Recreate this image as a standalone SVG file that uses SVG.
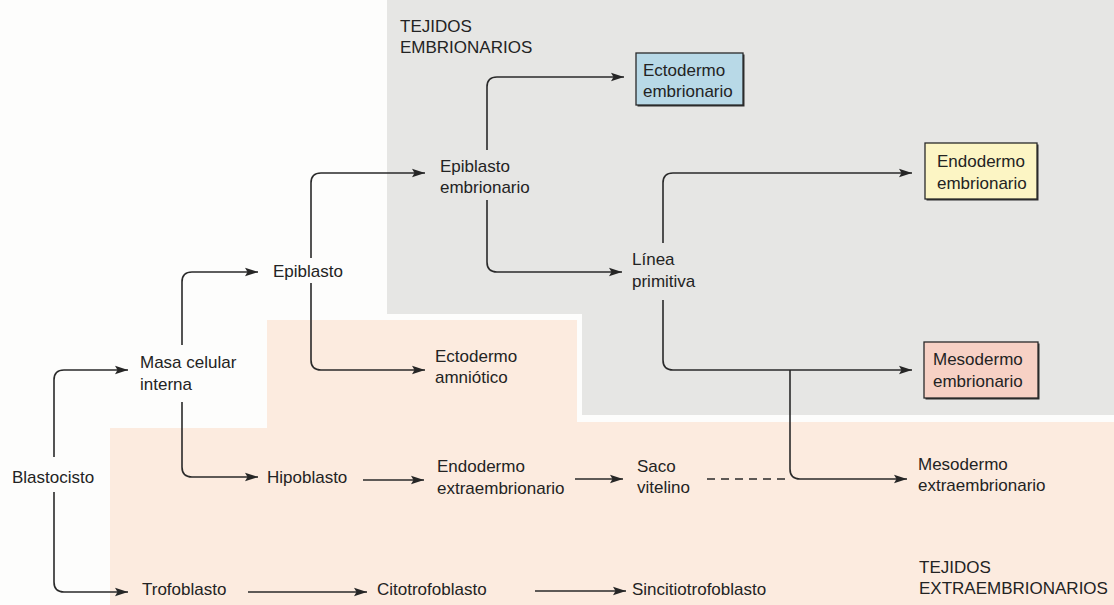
<svg xmlns="http://www.w3.org/2000/svg" width="1114" height="605" viewBox="0 0 1114 605">
<defs>
<marker id="ah" markerUnits="userSpaceOnUse" markerWidth="14" markerHeight="10" refX="13" refY="5" orient="auto">
<path d="M0,0.8 L13,5 L0,9.2 L2.5,5 Z" fill="#262626"/>
</marker>
<style>
text{font-family:"Liberation Sans",Arial,sans-serif;font-size:17px;fill:#232323}
.c{fill:none;stroke:#2a2a2a;stroke-width:1.6}
.a{marker-end:url(#ah)}
.d{stroke-dasharray:8 6}
.box{stroke:#2a2a2a;stroke-width:1.3}
.sh{fill:#2e2e2e}
</style>
</defs>
<rect x="0" y="0" width="1114" height="605" fill="#fdfdfc"/>
<g id="backgrounds">
<polygon points="387,0 1114,0 1114,415 582,415 582,314 387,314" fill="#e6e6e4"/>
<polygon points="267,320 577,320 577,422 1114,422 1114,605 110,605 110,428 267,428" fill="#fcebdf"/>
</g>
<g id="connectors">
<path class="c a" d="M54,457 V380 Q54,370 64,370 H128"/>
<path class="c a" d="M54,492 V582 Q54,592 64,592 H128"/>
<path class="c a" d="M182,345 V282 Q182,272 192,272 H258"/>
<path class="c a" d="M182,402 V467 Q182,477 192,477 H258"/>
<path class="c a" d="M311,258 V183 Q311,173 321,173 H425"/>
<path class="c a" d="M311,283 V360 Q311,370 321,370 H425"/>
<path class="c a" d="M487,150 V87 Q487,77 497,77 H624"/>
<path class="c a" d="M487,200 V262 Q487,272 497,272 H622"/>
<path class="c a" d="M663,243 V183 Q663,173 673,173 H912"/>
<path class="c a" d="M663,300 V360 Q663,370 673,370 H912"/>
<path class="c a" d="M790,370 V469 Q790,479 800,479 H907"/>
<path class="c d" d="M707,479 H790"/>
<path class="c a" d="M363,480 H424"/>
<path class="c a" d="M575,479 H623"/>
<path class="c a" d="M248,592 H367"/>
<path class="c a" d="M535,591 H626"/>
</g>
<g id="label-tejidos-embrionarios">
<text x="400" y="32">TEJIDOS</text>
<text x="400" y="53">EMBRIONARIOS</text>
</g>
<g id="label-tejidos-extraembrionarios">
<text x="919" y="573">TEJIDOS</text>
<text x="919" y="594">EXTRAEMBRIONARIOS</text>
</g>
<g id="blastocisto"><text x="12" y="483">Blastocisto</text></g>
<g id="masa-celular-interna"><text x="140" y="368">Masa celular</text><text x="140" y="390">interna</text></g>
<g id="epiblasto"><text x="273" y="277">Epiblasto</text></g>
<g id="hipoblasto"><text x="267" y="483">Hipoblasto</text></g>
<g id="trofoblasto"><text x="142" y="595">Trofoblasto</text></g>
<g id="epiblasto-embrionario"><text x="440" y="172">Epiblasto</text><text x="440" y="193">embrionario</text></g>
<g id="ectodermo-amniotico"><text x="435" y="362">Ectodermo</text><text x="435" y="383">amniótico</text></g>
<g id="endodermo-extraembrionario"><text x="437" y="472">Endodermo</text><text x="437" y="494">extraembrionario</text></g>
<g id="saco-vitelino"><text x="637" y="472">Saco</text><text x="637" y="493">vitelino</text></g>
<g id="mesodermo-extraembrionario"><text x="918" y="470">Mesodermo</text><text x="918" y="491">extraembrionario</text></g>
<g id="citotrofoblasto"><text x="377" y="595">Citotrofoblasto</text></g>
<g id="sincitiotrofoblasto"><text x="632" y="595">Sincitiotrofoblasto</text></g>
<g id="linea-primitiva"><text x="632" y="265">Línea</text><text x="632" y="287">primitiva</text></g>
<g id="ectodermo-embrionario">
<rect class="sh" x="637.5" y="54.5" width="107" height="52"/>
<rect class="box" x="636" y="53" width="107" height="52" fill="#b8d9e7"/>
<text x="643" y="76">Ectodermo</text><text x="643" y="97">embrionario</text>
</g>
<g id="endodermo-embrionario">
<rect class="sh" x="926.5" y="144.5" width="112" height="56"/>
<rect class="box" x="925" y="143" width="112" height="56" fill="#fcf5c4"/>
<text x="937" y="167">Endodermo</text><text x="937" y="189">embrionario</text>
</g>
<g id="mesodermo-embrionario">
<rect class="sh" x="925.5" y="343.5" width="114" height="56"/>
<rect class="box" x="924" y="342" width="114" height="56" fill="#f7d1c5"/>
<text x="933" y="365">Mesodermo</text><text x="933" y="387">embrionario</text>
</g>
</svg>
